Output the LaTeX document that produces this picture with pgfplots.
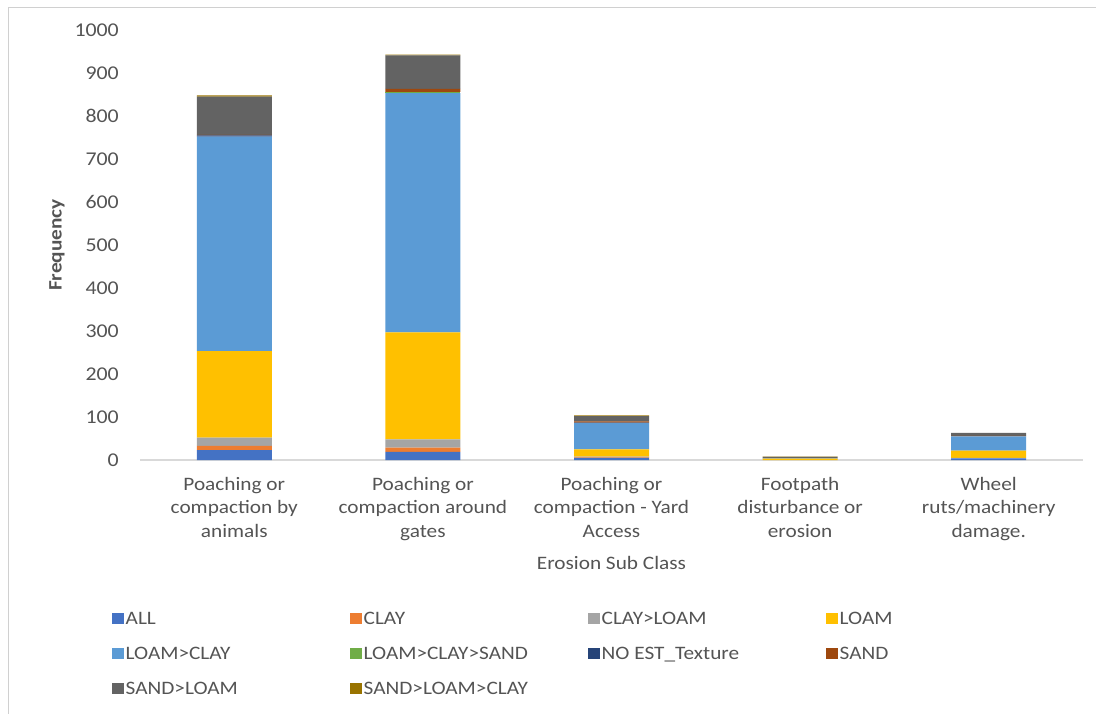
\documentclass[border=0pt]{standalone}
\usepackage{pgfplots}
\pgfplotsset{compat=1.18}
\usepackage{fontspec}
\setmainfont{Carlito}[FakeStretch=1.12]

\definecolor{cAll}{HTML}{4472C4}
\definecolor{cClay}{HTML}{ED7D31}
\definecolor{cClayLoam}{HTML}{A5A5A5}
\definecolor{cLoam}{HTML}{FFC000}
\definecolor{cLoamClay}{HTML}{5B9BD5}
\definecolor{cLoamClaySand}{HTML}{70AD47}
\definecolor{cNoEst}{HTML}{264478}
\definecolor{cSand}{HTML}{9E480E}
\definecolor{cSandLoam}{HTML}{636363}
\definecolor{cSandLoamClay}{HTML}{997300}
\definecolor{textgrey}{HTML}{545454}
\definecolor{axisgrey}{HTML}{D9D9D9}
\definecolor{bordergrey}{HTML}{D0D0D0}

\newcommand{\lentry}[1]{\makebox[222pt][l]{\rule[-4pt]{0pt}{18pt}#1}}

\begin{document}
\begin{tikzpicture}
\begin{axis}[
  at={(140pt,253pt)}, anchor=south west,
  scale only axis, width=943pt, height=430pt,
  ybar stacked, bar width=75pt,
  xmin=-0.5, xmax=4.5, ymin=0, ymax=1000,
  xtick={0,1,2,3,4},
  xticklabels={{Poaching or\\compaction by\\animals},
               {Poaching or\\compaction around\\gates},
               {Poaching or\\compaction - Yard\\Access},
               {Footpath\\disturbance or\\erosion},
               {Wheel\\ruts/machinery\\damage.}},
  ytick={0,100,...,1000},
  extra y ticks={0}, extra y tick labels={},
  extra y tick style={grid=major, major grid style={draw=axisgrey, line width=1.6pt}},
  axis line style={draw=none},
  tick style={draw=none}, major tick length=0pt,
  /pgf/number format/assume math mode=true,
  /pgf/number format/1000 sep={},
  yticklabel style={font=\fontsize{19.5}{23}\selectfont, text=textgrey, anchor=east, inner sep=0pt, xshift=-21pt},
  xticklabel style={font=\fontsize{19}{23.5}\selectfont, text=textgrey, align=center, anchor=north, inner sep=0pt, yshift=-17pt},
  ylabel={\bfseries Frequency},
  xlabel={Erosion Sub Class},
  every axis y label/.style={at={(axis description cs:-0.088,0.5)}, rotate=90, anchor=center, font=\fontsize{19}{23}\selectfont, text=textgrey},
  every axis x label/.style={at={(axis description cs:0.5,-0.2395)}, anchor=center, font=\fontsize{19}{23}\selectfont, text=textgrey},
  legend columns=4,
  legend cell align=left,
  legend image code/.code={\fill[#1] (0pt,-5.5pt) rectangle (12pt,5.5pt);},
  legend style={at={(axis description cs:-0.030,-0.346)}, anchor=north west,
    draw=none, fill=none, inner sep=0pt, outer sep=0pt,
    font=\fontsize{19}{23}\selectfont, text=textgrey,
    nodes={inner sep=2pt}, row sep=15.5pt, column sep=0pt},
]
% stacked soil-texture counts per erosion sub class
\addplot[fill=cAll, draw=none]          coordinates {(0,23) (1,19) (2,5) (3,0) (4,4)};
\addplot[fill=cClay, draw=none]         coordinates {(0,10) (1,10) (2,1) (3,0) (4,0)};
\addplot[fill=cClayLoam, draw=none]     coordinates {(0,19) (1,19) (2,2) (3,0) (4,1)};
\addplot[fill=cLoam, draw=none]         coordinates {(0,201) (1,249) (2,17) (3,3) (4,17)};
\addplot[fill=cLoamClay, draw=none]     coordinates {(0,499) (1,556) (2,61) (3,1) (4,33)};
\addplot[fill=cLoamClaySand, draw=none] coordinates {(0,0) (1,3) (2,0) (3,0) (4,0)};
\addplot[fill=cNoEst, draw=none]        coordinates {(0,3) (1,0) (2,1) (3,0) (4,0)};
\addplot[fill=cSand, draw=none]         coordinates {(0,1) (1,7) (2,3) (3,0) (4,1)};
\addplot[fill=cSandLoam, draw=none]     coordinates {(0,89) (1,78) (2,12) (3,3) (4,7)};
\addplot[fill=cSandLoamClay, draw=none] coordinates {(0,3) (1,2) (2,2) (3,1) (4,0)};
\legend{\lentry{ALL}, \lentry{CLAY}, \lentry{CLAY>LOAM}, \lentry{LOAM},
        \lentry{LOAM>CLAY}, \lentry{LOAM>CLAY>SAND}, \lentry{NO EST\_Texture}, \lentry{SAND},
        \lentry{SAND>LOAM}, \lentry{SAND>LOAM>CLAY}}
\end{axis}
\draw[bordergrey, line width=0.8pt] (8pt,-5pt) -- (8pt,706pt) -- (1100pt,706pt);
\pgfresetboundingbox
\useasboundingbox (0pt,0pt) rectangle (1096pt,713pt);
\end{tikzpicture}
\end{document}
